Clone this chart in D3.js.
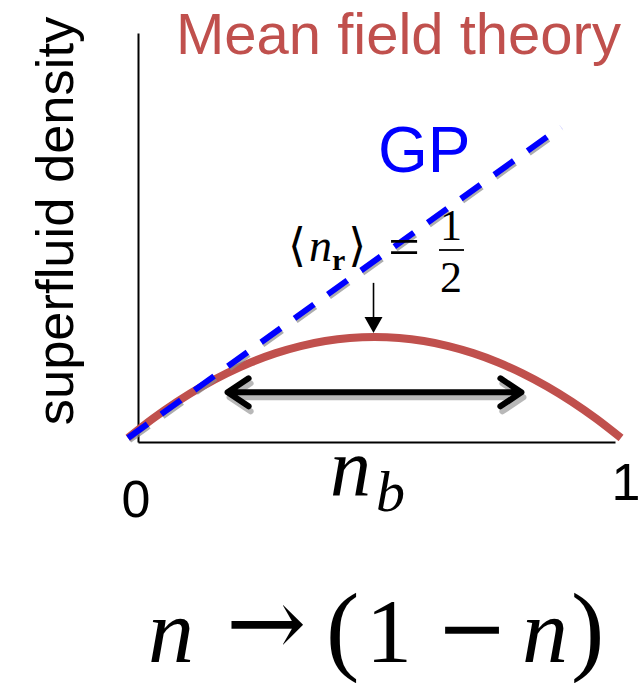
<!DOCTYPE html>
<html>
<head>
<meta charset="utf-8">
<script src="https://cdn.jsdelivr.net/npm/d3@7"></script>
<style>
  html, body { margin: 0; padding: 0; background: #fff; }
  svg { display: block; }
</style>
</head>
<body>
<svg id="chart" width="642" height="683"></svg>
<script>
// ---- data ----
const nbValues = [0, 0.05, 0.1, 0.15, 0.2, 0.25, 0.3, 0.35, 0.4, 0.45, 0.5,
                  0.55, 0.6, 0.65, 0.7, 0.75, 0.8, 0.85, 0.9, 0.95, 1];
const meanFieldValues = [0, 0.0475, 0.09, 0.1275, 0.16, 0.1875, 0.21, 0.2275, 0.24, 0.2475, 0.25,
                         0.2475, 0.24, 0.2275, 0.21, 0.1875, 0.16, 0.1275, 0.09, 0.0475, 0];
const gpNb = [0, 0.878];
const gpValues = [0, 0.77];
const xTickLabels = ["0", "1"];
const titleText = "Mean field theory";
const gpLabel = "GP";
const yAxisLabel = "superfluid density";
const rangeArrowNb = [0.2, 0.8];
const rangeArrowValue = 0.113;
const peakArrowNb = 0.498;
const peakArrowValues = [0.384, 0.26];

const red = "#C0504D";
const blue = "#0000FF";

const svg = d3.select("#chart");

const x = d3.scaleLinear().domain([0, 1]).range([128, 621]);
const y = d3.scaleLinear().domain([0, 1]).range([438, 34]);

// axes (no ticks)
const xAxisScale = d3.scaleLinear().domain([0, 1]).range([138, 615]);
const yAxisScale = d3.scaleLinear().domain([0, 1]).range([442, 33]);
svg.append("g").attr("transform", "translate(0,442)")
  .call(d3.axisBottom(xAxisScale).tickValues([]).tickSizeOuter(0))
  .call(g => g.select(".domain").attr("stroke", "#000").attr("stroke-width", 2));
svg.append("g").attr("transform", "translate(138,0)")
  .call(d3.axisLeft(yAxisScale).tickValues([]).tickSizeOuter(0))
  .call(g => g.select(".domain").attr("stroke", "#000").attr("stroke-width", 2));

// mean field curve
const mfData = nbValues.map((n, i) => [n, meanFieldValues[i]]);
const line = d3.line().x(d => x(d[0])).y(d => y(d[1])).curve(d3.curveMonotoneX);
svg.append("path").datum(mfData)
  .attr("d", line)
  .attr("fill", "none").attr("stroke", red).attr("stroke-width", 8);

// GP dashed line (with gray shadow)
const gpData = gpNb.map((n, i) => [n, gpValues[i]]);
const gpLine = d3.line().x(d => x(d[0])).y(d => y(d[1]));
svg.append("path").datum(gpData)
  .attr("d", gpLine)
  .attr("transform", "translate(2,3)")
  .attr("fill", "none").attr("stroke", "#8a8a8a").attr("stroke-opacity", 0.7)
  .attr("stroke-width", 4).attr("stroke-dasharray", "24,17");
svg.append("path").datum(gpData)
  .attr("d", gpLine)
  .attr("fill", "none").attr("stroke", blue).attr("stroke-width", 6)
  .attr("stroke-dasharray", "24,17");

// double-headed arrow (with shadow)
function drawDoubleArrow(g, color, width, dx, dy, opacity) {
  const x0 = x(rangeArrowNb[0]) + dx, x1 = x(rangeArrowNb[1]) + dx, yy = y(rangeArrowValue) + dy;
  const path = d3.path();
  path.moveTo(x0 + 4, yy); path.lineTo(x1 - 4, yy);
  path.moveTo(x0 + 22, yy - 14); path.lineTo(x0 + 1, yy); path.lineTo(x0 + 22, yy + 14);
  path.moveTo(x1 - 22, yy - 14); path.lineTo(x1 - 1, yy); path.lineTo(x1 - 22, yy + 14);
  g.append("path").attr("d", path.toString())
    .attr("fill", "none").attr("stroke", color).attr("stroke-width", width)
    .attr("stroke-linecap", "round").attr("stroke-linejoin", "round")
    .attr("stroke-opacity", opacity);
}
const arrG = svg.append("g");
drawDoubleArrow(arrG, "#888", 6, 2, 5, 0.6);
drawDoubleArrow(arrG, "#000", 6, 0, 0, 1);

// small arrow pointing at peak
{
  const ax = x(peakArrowNb), ay0 = y(peakArrowValues[0]), ay1 = y(peakArrowValues[1]);
  svg.append("line").attr("x1", ax).attr("x2", ax).attr("y1", ay0).attr("y2", ay1 - 14)
    .attr("stroke", "#000").attr("stroke-width", 1.6);
  svg.append("path")
    .attr("d", `M${ax - 9},${ay1 - 16}L${ax + 9},${ay1 - 16}L${ax},${ay1}Z`)
    .attr("fill", "#000");
}

// texts
svg.append("text").text(titleText)
  .attr("x", 176).attr("y", 54)
  .attr("font-family", "Liberation Sans, Arial, sans-serif").attr("font-size", 58)
  .attr("fill", red);

svg.append("text").text(gpLabel)
  .attr("x", 378).attr("y", 172)
  .attr("font-family", "Liberation Sans, Arial, sans-serif").attr("font-size", 64)
  .attr("fill", blue);

svg.append("text").text(yAxisLabel)
  .attr("transform", "translate(73,221) rotate(-90)")
  .attr("text-anchor", "middle")
  .attr("font-family", "Liberation Sans, Arial, sans-serif").attr("font-size", 52.5)
  .attr("fill", "#000");

svg.append("text").text(xTickLabels[0])
  .attr("x", 136).attr("y", 517).attr("text-anchor", "middle")
  .attr("font-family", "Liberation Sans, Arial, sans-serif").attr("font-size", 52);
svg.append("text").text(xTickLabels[1])
  .attr("x", 626).attr("y", 500).attr("text-anchor", "middle")
  .attr("font-family", "Liberation Sans, Arial, sans-serif").attr("font-size", 52);

const serif = "Liberation Serif, Times New Roman, serif";
const mathSym = "DejaVu Serif, serif";

// n_b axis label
const nb = svg.append("text").attr("x", 330).attr("y", 495)
  .attr("font-family", serif).attr("font-style", "italic").attr("font-size", 82);
nb.append("tspan").text("n").attr("textLength", 45);
nb.append("tspan").text("b").attr("font-size", 58).attr("dy", 16).attr("dx", 5);

// <n_r> = 1/2
const nr = svg.append("text").attr("x", 288).attr("y", 261)
  .attr("font-family", serif).attr("font-size", 46);
nr.append("tspan").text("\u27E8").attr("font-family", mathSym).attr("font-size", 46);
nr.append("tspan").text("n").attr("font-style", "italic").attr("dx", 3);
nr.append("tspan").text("r").attr("font-weight", "bold").attr("font-size", 30).attr("dy", 9);
nr.append("tspan").text("\u27E9").attr("font-family", mathSym).attr("font-size", 46).attr("dy", -9).attr("dx", 3);
svg.append("text").text("=").attr("x", 404).attr("y", 266).attr("text-anchor", "middle")
  .attr("font-family", serif).attr("font-size", 56);
svg.append("text").text("1").attr("x", 451).attr("y", 240).attr("text-anchor", "middle")
  .attr("font-family", serif).attr("font-size", 44);
svg.append("line").attr("x1", 439).attr("x2", 464).attr("y1", 250).attr("y2", 250)
  .attr("stroke", "#000").attr("stroke-width", 1.8);
svg.append("text").text("2").attr("x", 451).attr("y", 292).attr("text-anchor", "middle")
  .attr("font-family", serif).attr("font-size", 44);

// n -> (1 - n)
const bottom = svg.append("text").attr("y", 662).attr("font-family", serif).attr("font-size", 92);
bottom.append("tspan").text("n").attr("x", 148).attr("font-style", "italic");
bottom.append("tspan").text("\u2192").attr("x", 226).attr("font-family", mathSym).attr("font-size", 96).attr("dy", -6);
bottom.append("tspan").text("(").attr("x", 326).attr("dy", 6).attr("font-size", 100);
bottom.append("tspan").text("1").attr("x", 366);
bottom.append("tspan").text("\u2212").attr("x", 436).attr("font-family", mathSym).attr("font-size", 86).attr("dy", -5);
bottom.append("tspan").text("n").attr("x", 522).attr("font-style", "italic").attr("dy", 5);
bottom.append("tspan").text(")").attr("x", 571).attr("font-size", 100);
</script>
</body>
</html>
